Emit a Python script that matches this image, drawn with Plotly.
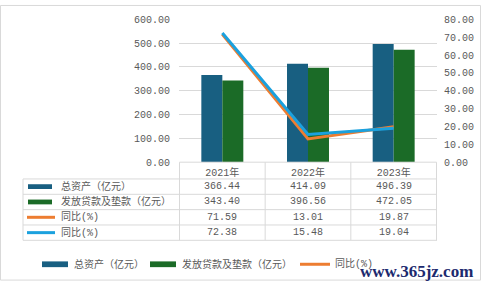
import plotly.graph_objects as go

# ---- data ----
years = ["2021年", "2022年", "2023年"]
total_assets = [366.44, 414.09, 496.39]
loans = [343.40, 396.56, 472.05]
yoy_orange = [71.59, 13.01, 19.87]
yoy_blue = [72.38, 15.48, 19.04]
series_names = ["总资产（亿元）", "发放贷款及垫款（亿元）", "同比(%)", "同比(%)"]

C_NAVY = "#185F81"
C_GREEN = "#1B6B27"
C_ORANGE = "#ED7D31"
C_BLUE = "#1BA1DE"
TXT = "#595959"
GRID = "#D9D9D9"
FONT = "Liberation Mono, Noto Sans CJK SC, sans-serif"

W, H = 481, 289
def px(x): return x / W
def py(y): return 1 - y / H

fig = go.Figure()
fig.add_bar(x=years, y=total_assets, name=series_names[0], marker_color=C_NAVY,
            marker_line_width=0, showlegend=False)
fig.add_bar(x=years, y=loans, name=series_names[1], marker_color=C_GREEN,
            marker_line_width=0, showlegend=False)
fig.add_scatter(x=years, y=yoy_orange, name=series_names[2], yaxis="y2", mode="lines",
                line=dict(color=C_ORANGE, width=3), showlegend=False)
fig.add_scatter(x=years, y=yoy_blue, name=series_names[3], yaxis="y2", mode="lines",
                line=dict(color=C_BLUE, width=3), showlegend=False)

shapes = []
annotations = []

# table grid
y_top_axis = 164
rows = [181.5, 197.5, 213.5, 229.5, 245.5]
for i in range(len(years) + 1):
    shapes.append(dict(type="line", xref="x", yref="paper", x0=i - 0.5, x1=i - 0.5,
                       y0=py(y_top_axis), y1=py(rows[-1]), line=dict(color=GRID, width=1)))
shapes.append(dict(type="line", xref="paper", yref="paper", x0=px(23), x1=px(23),
                   y0=py(rows[0]), y1=py(rows[-1]), line=dict(color=GRID, width=1)))
shapes.append(dict(type="line", xref="x", yref="paper", x0=-0.5, x1=len(years) - 0.5,
                   y0=py(y_top_axis), y1=py(y_top_axis), line=dict(color=GRID, width=1)))
for r in rows:
    shapes.append(dict(type="line", xref="paper", yref="paper", x0=px(23), x1=px(437),
                       y0=py(r), y1=py(r), line=dict(color=GRID, width=1)))

table_series = [total_assets, loans, yoy_orange, yoy_blue]
table_colors = [C_NAVY, C_GREEN, C_ORANGE, C_BLUE]
for k, (vals, col) in enumerate(zip(table_series, table_colors)):
    cy = (rows[k] + rows[k + 1]) / 2
    if k < 2:
        shapes.append(dict(type="rect", xref="paper", yref="paper", x0=px(28), x1=px(52),
                           y0=py(cy + 2.5), y1=py(cy - 2.5), fillcolor=col, line_width=0))
    else:
        shapes.append(dict(type="line", xref="paper", yref="paper", x0=px(27), x1=px(55),
                           y0=py(cy), y1=py(cy), line=dict(color=col, width=3)))
    annotations.append(dict(xref="paper", yref="paper", x=px(59), y=py(cy), text=series_names[k],
                            showarrow=False, xanchor="left", yanchor="middle",
                            font=dict(family=FONT, size=10, color=TXT)))
    for i, v in enumerate(vals):
        annotations.append(dict(xref="x", yref="paper", x=years[i], y=py(cy), text=f"{v:.2f}",
                                showarrow=False, xanchor="center", yanchor="middle",
                                font=dict(family=FONT, size=10, color=TXT)))

# bottom legend (drawn)
ly = 270.5
legend_items = [
    ("rect", C_NAVY, 42, 68, 72, series_names[0]),
    ("rect", C_GREEN, 150, 176, 180, series_names[1]),
    ("line", C_ORANGE, 300, 330, 333, series_names[2]),
]
for kind, col, x0, x1, tx, name in legend_items:
    if kind == "rect":
        shapes.append(dict(type="rect", xref="paper", yref="paper", x0=px(x0), x1=px(x1),
                           y0=py(ly + 3), y1=py(ly - 3), fillcolor=col, line_width=0))
    else:
        shapes.append(dict(type="line", xref="paper", yref="paper", x0=px(x0), x1=px(x1),
                           y0=py(ly), y1=py(ly), line=dict(color=col, width=3)))
    annotations.append(dict(xref="paper", yref="paper", x=px(tx), y=py(ly), text=name,
                            showarrow=False, xanchor="left", yanchor="middle",
                            font=dict(family=FONT, size=10, color=TXT)))

# watermark
annotations.append(dict(xref="paper", yref="paper", x=px(475), y=py(278), text="<b>www.365jz.com</b>",
                        showarrow=False, xanchor="right", yanchor="middle",
                        font=dict(family="Liberation Serif, serif", size=17, color="#1C2A6E")))

# outer border
shapes.append(dict(type="rect", xref="paper", yref="paper", x0=px(0.5), x1=px(480.5),
                   y0=py(287), y1=py(0.5), line=dict(color=GRID, width=1), fillcolor="rgba(0,0,0,0)"))

fig.update_layout(
    width=W, height=H, margin=dict(l=0, r=0, t=0, b=0),
    paper_bgcolor="white", plot_bgcolor="white",
    barmode="group", bargap=0.51, bargroupgap=0,
    font=dict(family=FONT, size=10, color=TXT),
    xaxis=dict(domain=[px(179), px(437)], type="category", showgrid=False, showline=False,
               zeroline=False, ticks="", tickfont=dict(family=FONT, size=10, color=TXT),
               ticklabelstandoff=3),
    yaxis=dict(domain=[py(164), py(15)], range=[0, 600], dtick=100, tickformat=".2f",
               showgrid=True, gridcolor=GRID, gridwidth=1, zeroline=False, showline=False,
               ticks="", ticklabelstandoff=8, tickfont=dict(family=FONT, size=10, color=TXT)),
    yaxis2=dict(overlaying="y", side="right", range=[0, 80], dtick=10, tickformat=".2f",
                showgrid=False, zeroline=False, showline=False, ticks="", ticklabelstandoff=6,
                tickfont=dict(family=FONT, size=10, color=TXT)),
    shapes=shapes, annotations=annotations, showlegend=False,
)

fig.write_html("out.html")
